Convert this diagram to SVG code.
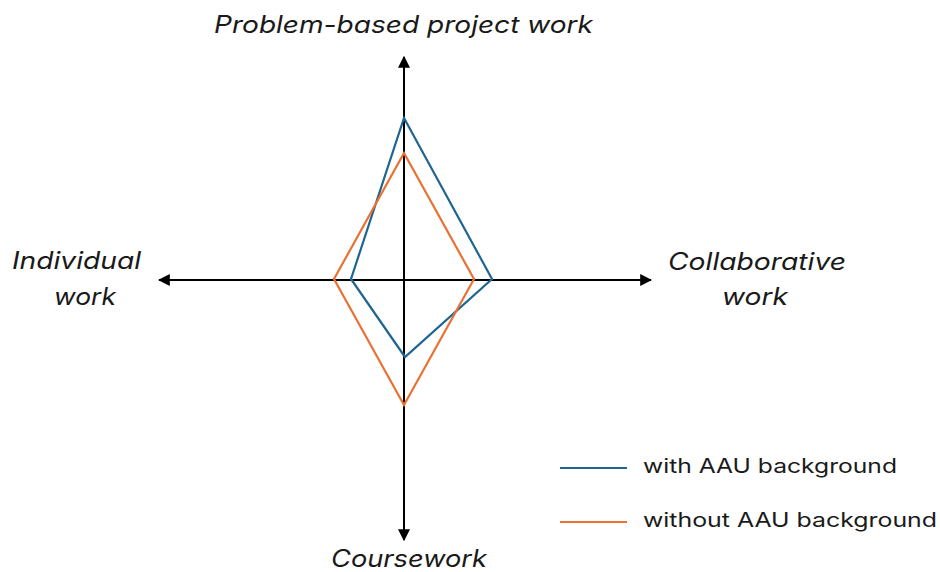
<svg xmlns="http://www.w3.org/2000/svg" width="940" height="572" viewBox="0 0 940 572">
  <style>
    .axis { stroke: #000; stroke-width: 2; fill: none; }
    .lbl { font-family: Inter, "Open Sans", "Liberation Sans", sans-serif; font-style: italic; font-size: 24px; fill: #1a1a1a; }
    .leg { font-family: Inter, "Open Sans", "Liberation Sans", sans-serif; font-size: 20px; fill: #1a1a1a; }
    .blue { stroke: #1F6591; stroke-width: 2.2; fill: none; stroke-linejoin: miter; }
    .orange { stroke: #E97132; stroke-width: 2.2; fill: none; stroke-linejoin: miter; }
  </style>
  <defs>
    <marker id="arr" viewBox="0 0 10 10" refX="9" refY="5" markerWidth="6" markerHeight="6" orient="auto" markerUnits="strokeWidth">
      <path d="M0,0 L10,5 L0,10 z" fill="#000"/>
    </marker>
  </defs>
  <rect width="940" height="572" fill="#fff"/>
  <g id="connectors">
    <line class="axis" x1="404" y1="280" x2="404" y2="57" marker-end="url(#arr)"/>
    <line class="axis" x1="404" y1="280" x2="404" y2="540" marker-end="url(#arr)"/>
    <line class="axis" x1="404" y1="280" x2="159" y2="280" marker-end="url(#arr)"/>
    <line class="axis" x1="404" y1="280" x2="651" y2="280" marker-end="url(#arr)"/>
  </g>
  <g id="series-with">
    <polygon class="blue" points="404,118 492,279 405,357 351,279"/>
  </g>
  <g id="series-without">
    <polygon class="orange" points="404,153 474,279 404,405 334,279"/>
  </g>
  <g id="label-top"><text class="lbl" x="214" y="33" textLength="379" lengthAdjust="spacingAndGlyphs">Problem-based project work</text></g>
  <g id="label-left">
    <text class="lbl" x="12" y="269" textLength="129" lengthAdjust="spacingAndGlyphs">Individual</text>
    <text class="lbl" x="54" y="305" textLength="62" lengthAdjust="spacingAndGlyphs">work</text>
  </g>
  <g id="label-right">
    <text class="lbl" x="668" y="270" textLength="178" lengthAdjust="spacingAndGlyphs">Collaborative</text>
    <text class="lbl" x="722" y="305" textLength="66" lengthAdjust="spacingAndGlyphs">work</text>
  </g>
  <g id="label-bottom"><text class="lbl" x="331" y="567" textLength="156" lengthAdjust="spacingAndGlyphs">Coursework</text></g>
  <g id="legend">
    <line class="blue" x1="560" y1="468" x2="627" y2="468"/>
    <text class="leg" x="643" y="473" textLength="254" lengthAdjust="spacingAndGlyphs">with AAU background</text>
    <line class="orange" x1="560" y1="522" x2="627" y2="522"/>
    <text class="leg" x="643" y="527" textLength="294" lengthAdjust="spacingAndGlyphs">without AAU background</text>
  </g>
</svg>
